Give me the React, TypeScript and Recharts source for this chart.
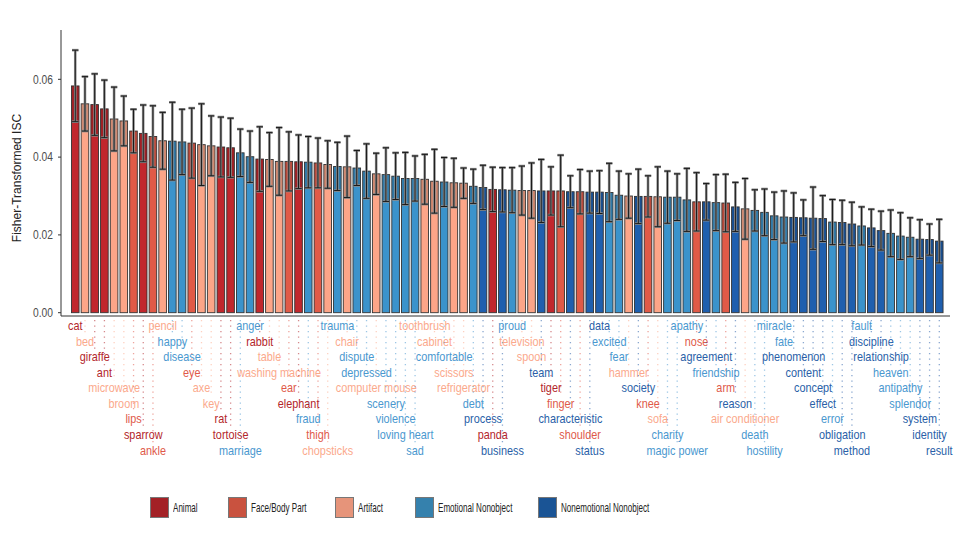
import React from 'react';
import { BarChart, Bar, XAxis, YAxis, ErrorBar } from 'recharts';

const words = [
  'cat', 'bed', 'giraffe', 'ant', 'microwave', 'broom', 'lips', 'sparrow', 'ankle',
  'pencil', 'happy', 'disease', 'eye', 'axe', 'key', 'rat', 'tortoise', 'marriage',
  'anger', 'rabbit', 'table', 'washing machine', 'ear', 'elephant', 'fraud', 'thigh', 'chopsticks',
  'trauma', 'chair', 'dispute', 'depressed', 'computer mouse', 'scenery', 'violence', 'loving heart', 'sad',
  'toothbrush', 'cabinet', 'comfortable', 'scissors', 'refrigerator', 'debt', 'process', 'panda', 'business',
  'proud', 'television', 'spoon', 'team', 'tiger', 'finger', 'characteristic', 'shoulder', 'status',
  'data', 'excited', 'fear', 'hammer', 'society', 'knee', 'sofa', 'charity', 'magic power',
  'apathy', 'nose', 'agreement', 'friendship', 'arm', 'reason', 'air conditioner', 'death', 'hostility',
  'miracle', 'fate', 'phenomenon', 'content', 'concept', 'effect', 'error', 'obligation', 'method',
  'fault', 'discipline', 'relationship', 'heaven', 'antipathy', 'splendor', 'system', 'identity', 'result',
];

// A = Animal, F = Face/Body Part, R = Artifact, E = Emotional Nonobject, N = Nonemotional Nonobject
const categories = [
  'A', 'R', 'A', 'A', 'R', 'R', 'F', 'A', 'F',
  'R', 'E', 'E', 'F', 'R', 'R', 'A', 'A', 'E',
  'E', 'A', 'R', 'R', 'F', 'A', 'E', 'F', 'R',
  'E', 'R', 'E', 'E', 'R', 'E', 'E', 'E', 'E',
  'R', 'R', 'E', 'R', 'R', 'E', 'N', 'A', 'N',
  'E', 'R', 'R', 'N', 'A', 'F', 'N', 'F', 'N',
  'N', 'E', 'E', 'R', 'N', 'F', 'R', 'E', 'E',
  'E', 'F', 'N', 'E', 'F', 'N', 'R', 'E', 'E',
  'E', 'E', 'N', 'N', 'N', 'N', 'E', 'N', 'N',
  'E', 'N', 'N', 'E', 'E', 'E', 'N', 'N', 'N',
];

const means = [
  0.0583, 0.0537, 0.0535, 0.0524, 0.0498, 0.0493, 0.0467, 0.0461, 0.0453,
  0.0442, 0.0441, 0.0439, 0.0436, 0.0432, 0.0429, 0.0426, 0.0424, 0.0411,
  0.0401, 0.0395, 0.0394, 0.0389, 0.0389, 0.0388, 0.0387, 0.0385, 0.0381,
  0.0376, 0.0375, 0.0372, 0.0364, 0.0357, 0.0355, 0.0351, 0.0345, 0.0345,
  0.0343, 0.0338, 0.0336, 0.0334, 0.0333, 0.0325, 0.0322, 0.0317, 0.0316,
  0.0315, 0.0314, 0.0314, 0.0313, 0.0313, 0.0313, 0.0311, 0.0311, 0.0310,
  0.0310, 0.0309, 0.0302, 0.0300, 0.0299, 0.0299, 0.0298, 0.0297, 0.0297,
  0.0290, 0.0285, 0.0285, 0.0283, 0.0282, 0.0272, 0.0267, 0.0263, 0.0258,
  0.0249, 0.0246, 0.0245, 0.0244, 0.0243, 0.0242, 0.0233, 0.0232, 0.0228,
  0.0223, 0.0218, 0.0211, 0.0204, 0.0197, 0.0194, 0.0189, 0.0188, 0.0184,
];

const errors = [
  0.0092, 0.0070, 0.0079, 0.0074, 0.0082, 0.0064, 0.0056, 0.0073, 0.0079,
  0.0073, 0.0100, 0.0084, 0.0090, 0.0105, 0.0077, 0.0077, 0.0076, 0.0061,
  0.0066, 0.0083, 0.0069, 0.0087, 0.0076, 0.0069, 0.0066, 0.0064, 0.0061,
  0.0062, 0.0079, 0.0045, 0.0070, 0.0053, 0.0069, 0.0060, 0.0067, 0.0058,
  0.0064, 0.0082, 0.0063, 0.0063, 0.0039, 0.0044, 0.0057, 0.0057, 0.0057,
  0.0058, 0.0063, 0.0071, 0.0081, 0.0062, 0.0092, 0.0041, 0.0057, 0.0054,
  0.0055, 0.0075, 0.0062, 0.0057, 0.0070, 0.0053, 0.0077, 0.0067, 0.0060,
  0.0081, 0.0075, 0.0047, 0.0072, 0.0074, 0.0063, 0.0078, 0.0053, 0.0060,
  0.0061, 0.0067, 0.0063, 0.0046, 0.0080, 0.0059, 0.0058, 0.0057, 0.0056,
  0.0049, 0.0048, 0.0050, 0.0060, 0.0060, 0.0050, 0.0050, 0.0040, 0.0056,
];

const legendCodes = ['A', 'F', 'R', 'E', 'N'];
const legendNames = ['Animal', 'Face/Body Part', 'Artifact', 'Emotional Nonobject', 'Nonemotional Nonobject'];
const yTicks = [0, 0.02, 0.04, 0.06];

const barColors: Record<string, string> = {
  A: '#c1272d', F: '#e05a47', R: '#fca588', E: '#3b93cb', N: '#1f5fae',
};
const labelColors: Record<string, string> = {
  A: '#b3262b', F: '#e05a4a', R: '#fba98c', E: '#4a98cf', N: '#2a5fa8',
};
const legendColors: Record<string, string> = {
  A: '#a32126', F: '#c9523f', R: '#e6947a', E: '#3581ad', N: '#1a5495',
};
const legendX = [150, 228, 335, 415, 538];

const sans = "'Liberation Sans', Arial, Helvetica, sans-serif";

const data = words.map((w, i) => ({ word: w, cat: categories[i], value: means[i], err: errors[i] }));

const BarShape = (props: any) => {
  const { x, y, width, height, payload } = props;
  const fill = barColors[payload.cat];
  const shadeH = height * (payload.err / payload.value);
  return (
    <g>
      <rect x={x} y={y} width={width} height={height} fill={fill} stroke="#333" strokeWidth={0.9} />
      <rect x={x + 0.45} y={y} width={width - 0.9} height={shadeH} fill="#000" fillOpacity={0.17} />
    </g>
  );
};

const WordTick = (props: any) => {
  const { x, y, payload } = props;
  const i = payload && payload.index != null ? payload.index : props.index;
  const row = i % 9;
  const cy = y + 9.7 + row * 15.54;
  const color = labelColors[categories[i]];
  return (
    <g>
      {row > 0 && (
        <line x1={x} x2={x} y1={y + 4} y2={cy - 7} stroke={color} strokeOpacity={0.55}
          strokeWidth={1.3} strokeDasharray="1.3 4.2" />
      )}
      <text transform={`translate(${x},${cy + 4.5}) scale(0.87 1)`} x={0} y={0} textAnchor="middle"
        fill={color} fontSize={12.5} fontFamily={sans}>
        {payload.value}
      </text>
    </g>
  );
};

const ValueTick = (props: any) => {
  const { x, y, payload } = props;
  return (
    <text transform={`translate(${x},${y + 4.3}) scale(0.82 1)`} x={0} y={0} textAnchor="end"
      fill="#4d4d4d" fontSize={12.5} fontFamily={sans}>
      {Number(payload.value).toFixed(2)}
    </text>
  );
};

export default function App() {
  return (
    <div style={{ position: 'absolute', left: 0, top: 0, width: 960, height: 540, background: '#fff' }}>
      <BarChart width={960} height={540} data={data} margin={{ top: 30, right: 10, bottom: 194, left: 0 }}>
        <XAxis dataKey="word" interval={0} tick={<WordTick />} tickLine={false} tickSize={0} tickMargin={0}
          height={30} padding={{ left: 9.45, right: 5.85 }} axisLine={{ stroke: '#333', strokeWidth: 1.2 }} />
        <YAxis width={61} type="number" domain={[-0.00085, 0.07268]} allowDataOverflow ticks={yTicks}
          tickSize={3} tickMargin={5} axisLine={{ stroke: '#333' }} tickLine={{ stroke: '#333' }}
          tick={<ValueTick />} />
        <Bar dataKey="value" barSize={7.6} shape={<BarShape />} isAnimationActive={false}>
          <ErrorBar dataKey="err" width={3.2} stroke="#8c8c8c" strokeWidth={2.6} direction="y" isAnimationActive={false} />
          <ErrorBar dataKey="err" width={3.2} stroke="#1a1a1a" strokeWidth={1} direction="y" isAnimationActive={false} />
        </Bar>
        <text x={17} y={178} transform="rotate(-90 17 178)" textAnchor="middle" dominantBaseline="central"
          fontSize={12} fill="#222" fontFamily={sans}>
          Fisher-Transformed ISC
        </text>
      </BarChart>
      {legendCodes.map((c, i) => (
        <div key={c} style={{ position: 'absolute', left: legendX[i], top: 497, display: 'flex', alignItems: 'center', whiteSpace: 'nowrap' }}>
          <div style={{ width: 19, height: 21, background: legendColors[c], boxSizing: 'border-box', border: '1px solid #777' }} />
          <span style={{ display: 'inline-block', marginLeft: 4, fontSize: 13, color: '#222', fontFamily: sans,
            transform: 'scaleX(0.62)', transformOrigin: 'left center' }}>{legendNames[i]}</span>
        </div>
      ))}
    </div>
  );
}
